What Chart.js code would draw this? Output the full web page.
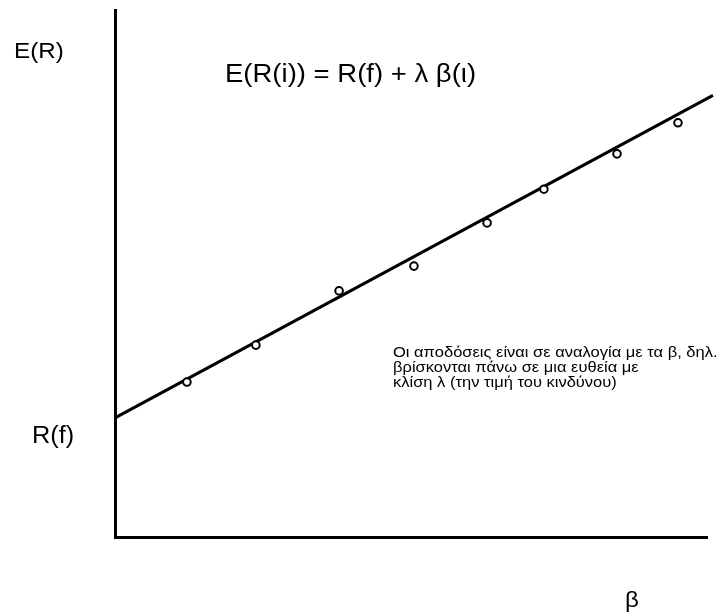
<!DOCTYPE html>
<html>
<head>
<meta charset="utf-8">
<script src="https://cdn.jsdelivr.net/npm/chart.js@4.4.1/dist/chart.umd.min.js"></script>
<style>
  html, body { margin: 0; padding: 0; background: #fff; }
  #wrap { width: 728px; height: 616px; position: relative; }
</style>
</head>
<body>
<div id="wrap"><canvas id="myChart" width="728" height="616"></canvas></div>
<script>
// securities: beta and expected return
var betas = [0.243, 0.476, 0.757, 1.010, 1.257, 1.449, 1.696, 1.902];
var returns = [2.94, 3.64, 4.67, 5.14, 5.96, 6.60, 7.27, 7.86];

// security market line end points
var lineBeta = [0, 2.02];
var lineReturn = [2.26, 8.38];

var xMin = 0, xMax = 2;
var yMin = 0, yMax = 10;

var labels = [
    { text: 'E(R)', x: 14, y: 58, size: 22 },
    { text: 'E(R(i)) = R(f) + λ β(ι)', x: 225, y: 82, size: 25 },
    { text: 'R(f)', x: 32, y: 443, size: 23 },
    { text: 'β', x: 625, y: 607, size: 22 },
    { text: 'Οι αποδόσεις είναι σε αναλογία με τα β, δηλ.', x: 393, y: 357, size: 15 },
    { text: 'βρίσκονται πάνω σε μια ευθεία με', x: 393, y: 372, size: 15 },
    { text: 'κλίση λ (την τιμή του κινδύνου)', x: 393, y: 387, size: 15 }
];
var stretch = 1.1;

function $each(arr, fn) {
    for (var i = 0; i < arr.length; i++) fn(arr[i], i);
}

var textPlugin = {
    id: 'texts',
    afterDraw: function(chart) {
        var ctx = chart.ctx;
        $each(labels, function(t) {
            ctx.save();
            ctx.fillStyle = '#000';
            ctx.textBaseline = 'alphabetic';
            ctx.textAlign = 'left';
            ctx.font = t.size + 'px "Liberation Sans", Arial, sans-serif';
            ctx.translate(t.x, t.y);
            ctx.scale(stretch, 1);
            ctx.fillText(t.text, 0, 0);
            ctx.restore();
        });
    }
};

var points = [];
$each(betas, function(b, i) { points.push({ x: b, y: returns[i] }); });
var linePts = [];
$each(lineBeta, function(b, i) { linePts.push({ x: b, y: lineReturn[i] }); });

var ctx = document.getElementById('myChart').getContext('2d');
var myChart = new Chart(ctx, {
    type: 'scatter',
    data: {
        datasets: [{
            label: 'SML',
            data: linePts,
            showLine: true,
            borderColor: '#000',
            borderWidth: 3,
            pointRadius: 0,
            clip: false,
            order: 2
        }, {
            label: 'Securities',
            data: points,
            pointRadius: 3.8,
            pointBorderWidth: 2,
            pointBorderColor: '#000',
            pointBackgroundColor: '#fff',
            order: 1
        }]
    },
    options: {
        responsive: false,
        animation: false,
        layout: { padding: { left: 107, top: 10, right: 21, bottom: 71 } },
        plugins: {
            legend: { display: false },
            tooltip: { enabled: false }
        },
        scales: {
            x: {
                type: 'linear', min: xMin, max: xMax,
                ticks: { display: false },
                grid: { display: false },
                border: { display: true, color: '#000', width: 3 }
            },
            y: {
                type: 'linear', min: yMin, max: yMax,
                ticks: { display: false },
                grid: { display: false },
                border: { display: true, color: '#000', width: 3 }
            }
        }
    },
    plugins: [textPlugin]
});
</script>
</body>
</html>
